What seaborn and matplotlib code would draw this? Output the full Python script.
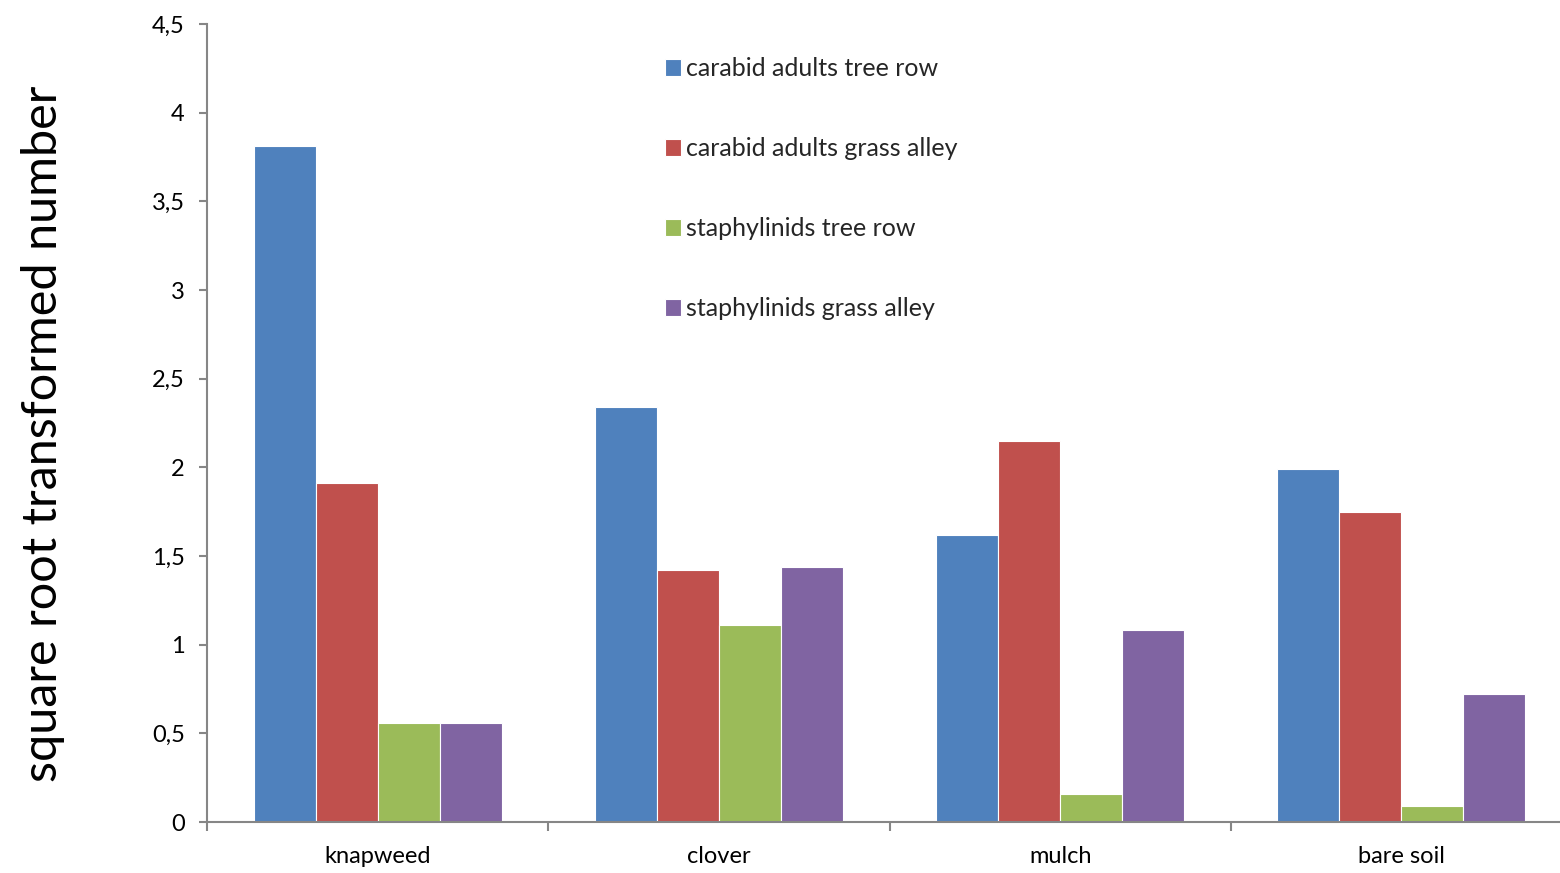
import matplotlib
matplotlib.use("Agg")
import matplotlib.pyplot as plt
from matplotlib.ticker import FuncFormatter, FixedLocator, MultipleLocator
import seaborn as sns
import pandas as pd

# Habitat treatments and beetle groups
categories = ["knapweed", "clover", "mulch", "bare soil"]
series_names = [
    "carabid adults tree row",
    "carabid adults grass alley",
    "staphylinids tree row",
    "staphylinids grass alley",
]
carabid_tree_row = [3.81, 2.34, 1.62, 1.99]
carabid_grass_alley = [1.91, 1.42, 2.15, 1.75]
staph_tree_row = [0.56, 1.11, 0.16, 0.09]
staph_grass_alley = [0.56, 1.44, 1.08, 0.72]
series_values = [carabid_tree_row, carabid_grass_alley, staph_tree_row, staph_grass_alley]
colors = ["#4F81BD", "#C0504D", "#9BBB59", "#8064A2"]

rows = []
for name, vals in zip(series_names, series_values):
    for cat, v in zip(categories, vals):
        rows.append({"habitat": cat, "group": name, "value": v})
df = pd.DataFrame(rows)

sns.set_style("white")
plt.rcParams["font.family"] = ["Lato", "DejaVu Sans"]

fig = plt.figure(figsize=(15.6, 8.73), dpi=100)
# the plot area runs slightly past the right edge of the figure
ax = fig.add_axes([0.1327, 0.0584, 0.875, 0.9141])

sns.barplot(data=df, x="habitat", y="value", hue="group", order=categories,
            hue_order=series_names, palette=colors, width=0.727, saturation=1,
            edgecolor="white", linewidth=0.8, ax=ax, errorbar=None)

axis_gray = "#868686"
ax.set_xlim(-0.5, 3.5)
ax.set_ylim(0, 4.5)
ax.yaxis.set_major_locator(MultipleLocator(0.5))
ax.yaxis.set_major_formatter(FuncFormatter(lambda v, p: f"{v:g}".replace(".", ",")))

for s in ["top", "right"]:
    ax.spines[s].set_visible(False)
for s in ["left", "bottom"]:
    ax.spines[s].set_color(axis_gray)
    ax.spines[s].set_linewidth(1.5)

ax.tick_params(axis="y", which="major", left=True, length=6, width=1.5, color=axis_gray,
               labelsize=17, pad=10, labelcolor="black")
ax.xaxis.set_minor_locator(FixedLocator([-0.5, 0.5, 1.5, 2.5, 3.5]))
ax.tick_params(axis="x", which="major", bottom=False, length=0, labelsize=17, pad=17.5,
               labelcolor="black")
ax.tick_params(axis="x", which="minor", bottom=True, length=6.5, width=1.5, color=axis_gray)

ax.set_xlabel("")
ax.set_ylabel("square root transformed number", fontsize=35, color="black")
ax.yaxis.set_label_coords(-0.104, 0.486)

handles, labels = ax.get_legend_handles_labels()
ax.legend(handles, labels, loc="upper left", bbox_to_anchor=(0.328, 0.971), frameon=False,
          fontsize=18, labelspacing=2.28, handlelength=0.65, handleheight=0.65,
          handletextpad=0.22, borderaxespad=0)

fig.savefig("out.png", dpi=100)
